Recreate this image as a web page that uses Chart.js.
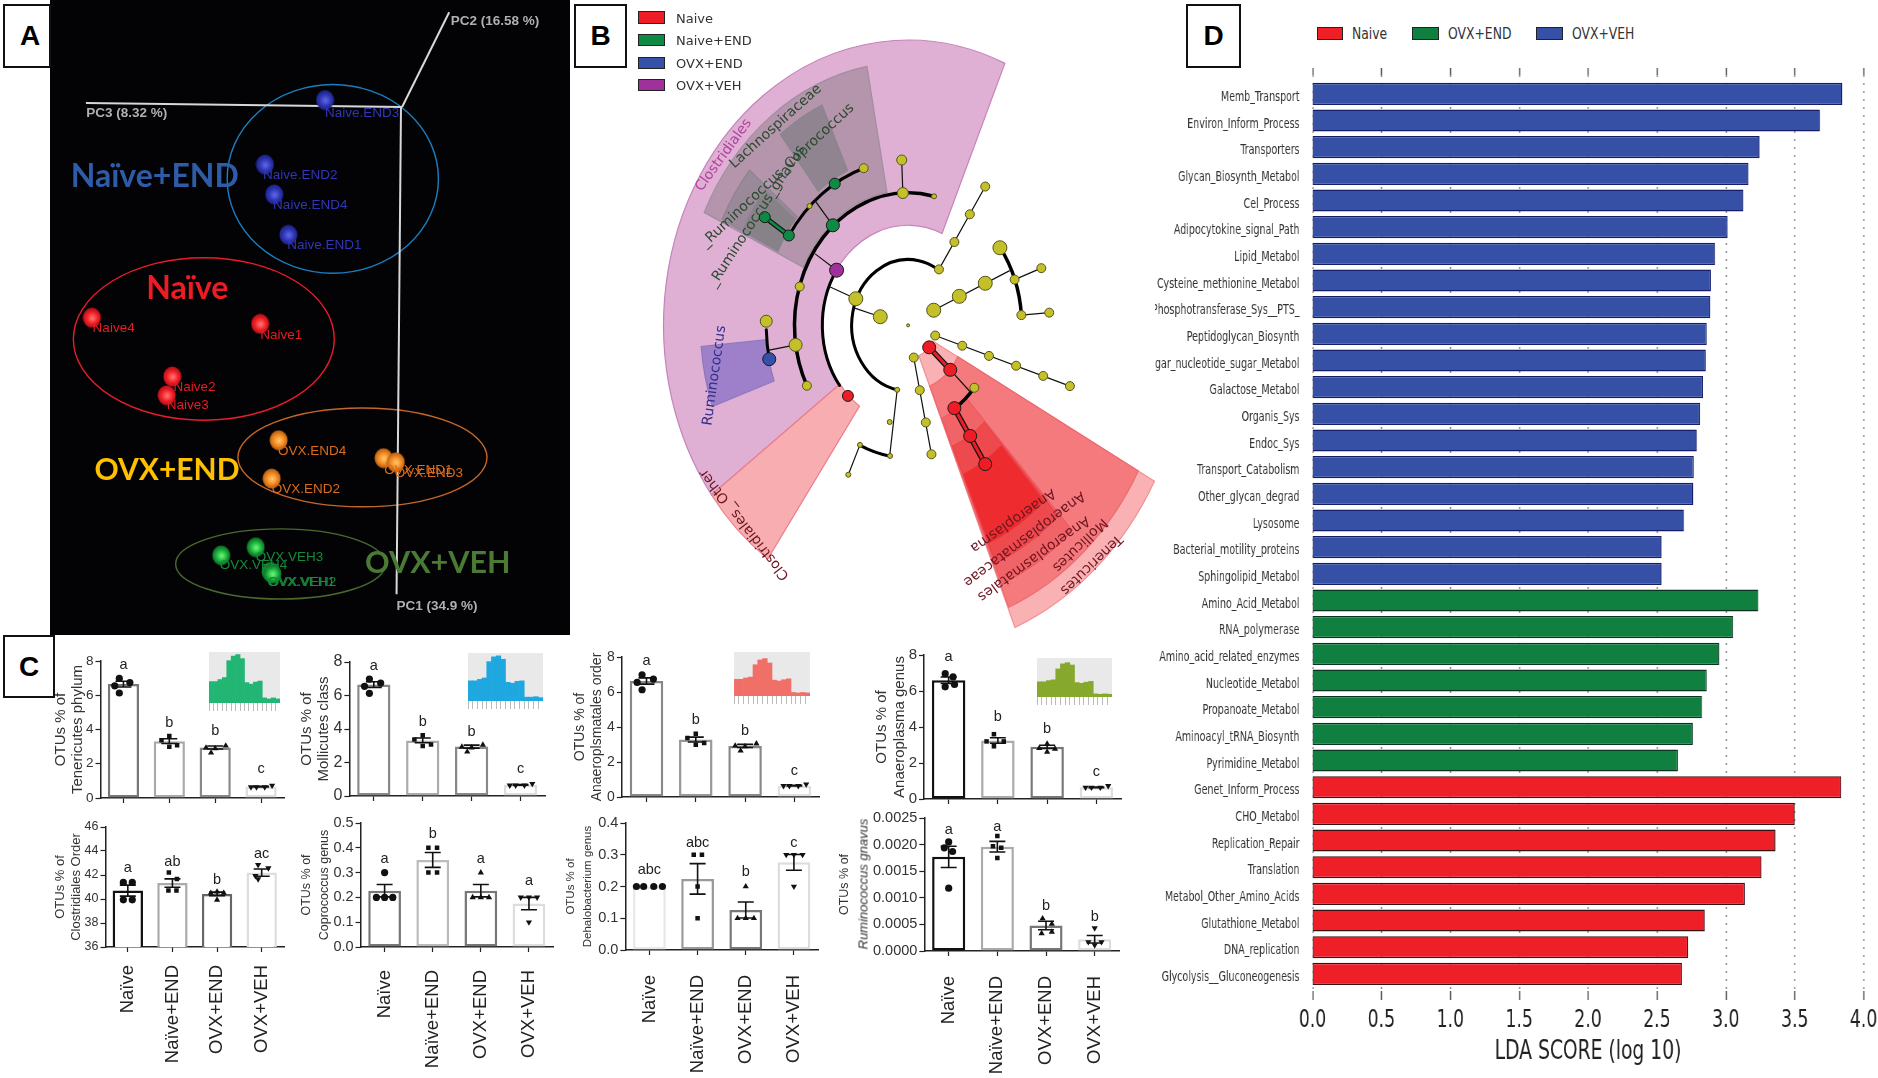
<!DOCTYPE html>
<html>
<head>
<meta charset="utf-8">
<title>Microbiome panels</title>
<script src="https://cdn.jsdelivr.net/npm/chart.js@4"></script>
<style>
  html, body { margin: 0; background: #fff; width: 1878px; height: 1078px; overflow: hidden; }
  canvas { position: absolute; }
  .tag { position: absolute; box-sizing: border-box; border: 2px solid #111; background: #fff; z-index: 5;
         font: bold 28px "Liberation Sans"; display: flex; align-items: center; justify-content: center; color: #000; }
  .swatch { position: absolute; box-sizing: border-box; border: 1.5px solid #222; }
  .key { position: absolute; color: #333; white-space: nowrap; transform-origin: 0 50%; }
</style>
</head>
<body>
<script>
// ───────────────────────── PANEL A DATA (PCoA, layout units) ─────────────────────────
const naiveEndX = [877, 715, 740, 778];
const naiveEndY = [245, 403, 476, 575];
const naiveX    = [248, 702, 465, 450];
const naiveY    = [778, 793, 922, 968];
const ovxEndX   = [752, 1035, 1068, 733];
const ovxEndY   = [1078, 1122, 1132, 1172];
const ovxVehX   = [597, 690, 730, 735];
const ovxVehY   = [1360, 1340, 1400, 1405];

const pcaLabels  = ["Naive.END3", "Naive.END2", "Naive.END4", "Naive.END1", "Naive4", "Naive1", "Naive2", "Naive3",
                    "OVX.END4", "OVX.END2", "OVX.END1", "OVX.END3", "OVX.VEH3", "OVX.VEH4", "OVX.VEH1", "OVX.VEH2"];
const pcaLabelX  = [877, 710, 737, 775, 250, 702, 468, 450, 750, 733, 1037, 1065, 690, 593, 722, 725];
const pcaLabelY  = [278, 430, 503, 601, 803, 821, 948, 992, 1105, 1198, 1152, 1160, 1365, 1385, 1427, 1427];
const pcaAxisPC3 = [[232, 252], [1085, 262]];
const pcaAxisPC2 = [[1085, 262], [1212, 30]];
const pcaAxisPC1 = [[1082, 262], [1070, 1455]];

// ───────────────────────── PANEL B DATA (cladogram, layout units) ─────────────────────────
const cladeCentre  = [872, 797];
const yellowNodes  = [[872,797,1.5],[733,732,7],[798,776,7],[855,392,5],[858,473,5.5],[941,481,2.5],[754,412,4.5],[610,505,2.5],
                      [584,702,4.5],[573,845,6.5],[603,945,4.5],[495,787,6],[1077,457,4.5],[1036,525,4.5],[995,593,4.5],[954,660,4.5],
                      [1116,607,7],[1226,657,4.5],[1155,685,4.5],[1173,772,4.5],[1247,766,4.5],[1077,694,7],[1008,726,7],[940,760,7],
                      [944,822,4.5],[1016,847,4.5],[1087,872,4.5],[1159,896,4.5],[1231,921,4.5],[1302,946,4.5],
                      [887,876,4.5],[903,956,4.5],[919,1035,4.5],[934,1113,4.5],[1048,950,4.5],[843,955,2.5],[823,1034,2.5],
                      [824,1117,2.5],[744,1090,2.5],[713,1163,2.5]];
const greenNodes   = [[677,450,5.5],[672,552,6.5],[555,577,5.5],[491,532,5.5]];
const purpleNodes  = [[682,662,7]];
const blueNodes    = [[503,880,6.5]];
const redNodes     = [[712,970,5.5],[928,851,6.5],[984,906,6.5],[995,1000,6.5],[1037,1068,6.5],[1077,1137,6.5]];
const thinBranches = [[733,732,665,703],[682,662,625,622],[798,776,730,755],[672,552,625,492],[858,473,855,392],[954,660,1077,457],
                      [940,760,1142,663],[1155,685,1226,657],[1173,772,1247,766],[944,822,1302,946],[887,876,934,1113],
                      [984,906,1035,958],[843,955,823,1117],[744,1090,713,1163],[573,845,503,858]];
const redBranches   = [[928,851,984,906],[995,1000,1077,1137]];
const greenBranches = [[555,577,491,532]];
// arcs: radius, from angle, to angle (degrees, clockwise from east)
const arcRadius = [150, 228, 302, 377, 377, 302, 302, 226];
const arcFrom   = [101, 143, 153, 213, 168, -36, 99, 39];
const arcTo     = [300, 213.5, 283, 252, 178.5, -4.4, 115, 57];
const arcWidth  = [3, 3, 3.5, 3, 3, 3.5, 3, 3.5];
// highlighted sectors: inner radius, outer radius, from angle, to angle
const sectorInner = [228, 225, 308, 388, 385, 385, 378, 75, 150, 230, 300, 370];
const sectorOuter = [650, 650, 600, 552, 550, 490, 552, 745, 696, 640, 590, 540];
const sectorFrom  = [143.5, 125, 205.4, 232, 206, 206, 160.4, 28.5, 28.5, 47, 47.5, 48];
const sectorTo    = [293.3, 143.5, 259.5, 245.5, 220, 219, 175, 67.6, 67.4, 67, 66.8, 66.5];
const sectorFill  = ["#dfb0d3", "#f8aeb0", "rgba(115,110,115,.4)", "rgba(106,115,114,.5)", "rgba(106,115,114,.35)", "rgba(106,120,110,.4)",
                     "rgba(80,70,190,.45)", "#f9b1b3", "#f47a7d", "#f06468", "#ee4a4d", "#ee2c30"];
const sectorEdge  = ["#c583ba", "#ec7f8b", "#a08ea2", "#8c8490", "#8c8490", "#8c8490", "#8d78bd", "#f48f93", "#ee6a70", "#ee5a60", "#ea4448", "#ea3034"];

const cladeText  = ["Clostridiales", "Lachnospiraceae", "_Ruminococcus_Coprococcus", "_Ruminococcus_gnavus", "Ruminococcus", "Clostridiales_ Other",
                    "Anaeroplasma", "Anaeroplasmataceae", "Anaeroplasmatales", "Mollicutes", "Tenericutes"];
const cladeTextX = [382, 520, 525, 470, 358, 437, 1150, 1180, 1205, 1328, 1358];
const cladeTextY = [380, 310, 430, 530, 920, 1285, 1275, 1320, 1368, 1335, 1383];
const cladeTextA = [-54, -42, -43, -57, -82, 232, 145, 143, 144, 136, 136];
const cladeTextC = ["#b040a0", "#2a4a30", "#2a4a30", "#2a4a30", "#2f2d8e", "#6d1520", "#6d1520", "#6d1520", "#6d1520", "#6d1520", "#6d1520"];

// ───────────────────────── PANEL C DATA ─────────────────────────
const groupsC = ["Naïve", "Naïve+END", "OVX+END", "OVX+VEH"];

const tenericutesMean   = [6.65, 3.32, 2.95, 0.67];
const tenericutesSem    = [0.17, 0.14, 0.09, 0.02];
const molliculesMean    = [6.65, 3.32, 2.95, 0.67];
const molliculesSem     = [0.17, 0.14, 0.09, 0.02];
const anaeroOrderMean   = [6.63, 3.28, 2.92, 0.65];
const anaeroOrderSem    = [0.18, 0.14, 0.09, 0.02];
const anaeroGenusMean   = [6.6, 3.25, 2.9, 0.65];
const anaeroGenusSem    = [0.18, 0.15, 0.09, 0.02];
const clostridialesMean = [40.7, 41.33, 40.42, 42.2];
const clostridialesSem  = [0.46, 0.35, 0.15, 0.3];
const coprococcusMean   = [0.227, 0.351, 0.227, 0.175];
const coprococcusSem    = [0.025, 0.03, 0.025, 0.025];
const dehaloMean        = [0.2, 0.224, 0.126, 0.276];
const dehaloSem         = [0, 0.048, 0.025, 0.025];
const gnavusMean        = [0.00177, 0.00196, 0.00048, 0.00022];
const gnavusSem         = [0.0002, 0.0001, 0.00008, 0.00007];

const topValues = [[6.98, 6.74, 6.55, 6.13], [3.62, 3.37, 3.08, 2.99], [2.93, 3.05, 2.89, 2.64], [0.64, 0.64, 0.64, 0.73]];
const topJitter = [[-0.09, 0.14, -0.19, -0.09], [0, -0.17, 0.17, 0], [-0.2, 0.23, 0, -0.09], [-0.22, -0.1, 0.08, 0.24]];
const anaeroGenusValues = [[6.96, 6.78, 6.23, 6.36], [3.6, 3.2, 3.2, 2.93], [2.82, 3.06, 2.78, 2.62], [0.64, 0.64, 0.64, 0.73]];
const anaeroGenusJitter = [[-0.07, 0.09, -0.07, 0.12], [-0.08, -0.23, 0.12, -0.08], [-0.16, 0, 0.16, 0], [-0.22, -0.1, 0.08, 0.24]];
const clostridialesValues = [[41.38, 41.38, 39.93, 39.93], [42.2, 41.66, 40.7, 40.7], [40.5, 40.5, 40.6, 39.93], [42.84, 42.57, 41.93, 41.66]];
const clostridialesJitter = [[-0.1, 0.1, -0.1, 0.1], [-0.08, 0.1, -0.09, 0.09], [-0.14, 0.15, 0, 0], [-0.08, 0.15, -0.14, -0.08]];
const coprococcusValues = [[0.3, 0.2, 0.2, 0.2], [0.4, 0.4, 0.3, 0.3], [0.3, 0.2, 0.2, 0.2], [0.2, 0.2, 0.2, 0.1]];
const coprococcusJitter = [[0, -0.17, 0, 0.17], [-0.09, 0.09, -0.09, 0.09], [0, -0.17, 0, 0.17], [-0.17, 0, 0.17, 0]];
const dehaloValues = [[0.2, 0.2, 0.2, 0.2], [0.3, 0.3, 0.2, 0.1], [0.2, 0.1, 0.1, 0.1], [0.3, 0.3, 0.3, 0.2]];
const dehaloJitter = [[-0.27, -0.12, 0.09, 0.27], [-0.08, 0.09, 0, 0], [0, -0.17, 0, 0.17], [-0.16, 0, 0.18, 0]];
const gnavusValues = [[0.00205, 0.00187, 0.00194, 0.00118], [0.00216, 0.00197, 0.00194, 0.00175], [0.00061, 0.00051, 0.00033, 0.00036], [0.00043, 0.00017, 0.00017, 0.00011]];
const gnavusJitter = [[0, 0.08, -0.09, 0], [0, -0.09, 0.08, 0], [-0.07, 0.12, -0.09, 0.12], [0, -0.13, 0.14, 0]];

const insetGreen = [0.42, 0.42, 0.46, 0.5, 0.83, 0.92, 0.95, 0.87, 0.4, 0.37, 0.41, 0.43, 0.1, 0.08, 0.1, 0.08];
const insetBlue  = [0.42, 0.42, 0.45, 0.48, 0.82, 0.92, 0.94, 0.87, 0.39, 0.37, 0.41, 0.42, 0.08, 0.08, 0.09, 0.07];
const insetRed   = [0.38, 0.38, 0.41, 0.43, 0.71, 0.82, 0.85, 0.75, 0.36, 0.34, 0.37, 0.39, 0.08, 0.07, 0.08, 0.07];
const insetOlive = [0.39, 0.39, 0.42, 0.44, 0.72, 0.85, 0.88, 0.82, 0.37, 0.35, 0.38, 0.4, 0.08, 0.07, 0.08, 0.07];

// ───────────────────────── PANEL D DATA ─────────────────────────
const ldaLabels = ["Memb_Transport", "Environ_Inform_Process", "Transporters", "Glycan_Biosynth_Metabol", "Cel_Process", "Adipocytokine_signal_Path",
    "Lipid_Metabol", "Cysteine_methionine_Metabol", "Phosphotransferase_Sys__PTS_", "Peptidoglycan_Biosynth", "Amino_sugar_nucleotide_sugar_Metabol",
    "Galactose_Metabol", "Organis_Sys", "Endoc_Sys", "Transport_Catabolism", "Other_glycan_degrad", "Lysosome", "Bacterial_motility_proteins",
    "Sphingolipid_Metabol", "Amino_Acid_Metabol", "RNA_polymerase", "Amino_acid_related_enzymes", "Nucleotide_Metabol", "Propanoate_Metabol",
    "Aminoacyl_tRNA_Biosynth", "Pyrimidine_Metabol", "Genet_Inform_Process", "CHO_Metabol", "Replication_Repair", "Translation",
    "Metabol_Other_Amino_Acids", "Glutathione_Metabol", "DNA_replication", "Glycolysis__Gluconeogenesis"];
const ldaValues = [3.845, 3.683, 3.245, 3.164, 3.127, 3.013, 2.922, 2.891, 2.888, 2.861, 2.854, 2.834, 2.814, 2.79, 2.767, 2.763, 2.696, 2.534, 2.534,
    3.235, 3.053, 2.952, 2.861, 2.827, 2.76, 2.652,
    3.838, 3.501, 3.36, 3.259, 3.137, 2.848, 2.726, 2.682];
const ldaGroups = [19, 7, 8];   // OVX+VEH, OVX+END, Naive bars, top to bottom

// ───────────────────────── HELPERS ─────────────────────────
Chart.defaults.animation = false;
Chart.defaults.devicePixelRatio = 1;
Chart.defaults.font.family = "Liberation Sans";
Chart.defaults.layout.autoPadding = false;  // plot areas are placed by hand

// fixes an axis box to a known size, without the room chart.js keeps for end labels
function fixBox(scale, size) {
    if (scale.isHorizontal()) scale.height = size; else scale.width = size;
    scale.paddingLeft = scale.paddingRight = scale.paddingTop = scale.paddingBottom = 0;
}

function makeCanvas(left, top, width, height) {
    const c = document.createElement("canvas");
    c.width = width; c.height = height;
    c.style.left = left + "px"; c.style.top = top + "px";
    document.body.appendChild(c);
    return c;
}

function addTag(letter, left, top, width, height, nudge = 0) {
    const d = document.createElement("div");
    d.className = "tag"; d.textContent = letter;
    d.style.cssText += `left:${left}px;top:${top}px;width:${width}px;height:${height}px;padding-left:${nudge}px`;
    document.body.appendChild(d);
}

function addKey(text, color, boxLeft, boxTop, boxW, boxH, textLeft, font, squeeze = 1) {
    const s = document.createElement("div");
    s.className = "swatch";
    s.style.cssText += `left:${boxLeft}px;top:${boxTop}px;width:${boxW}px;height:${boxH}px;background:${color}`;
    document.body.appendChild(s);
    const t = document.createElement("div");
    t.className = "key"; t.textContent = text;
    t.style.cssText += `left:${textLeft}px;top:${boxTop + boxH / 2}px;transform:translateY(-50%) scaleX(${squeeze});font:${font}`;
    document.body.appendChild(t);
}

// text placed through the chart's scales
function notesPlugin(items, xId = "x", yId = "y") {
    return {
        id: "notes",
        afterDatasetsDraw(chart) {
            const ctx = chart.ctx;
            items.forEach(n => {
                ctx.save();
                ctx.translate(chart.scales[xId].getPixelForValue(n.x), chart.scales[yId].getPixelForValue(n.y));
                if (n.angle) ctx.rotate(n.angle * Math.PI / 180);
                ctx.font = n.font;
                ctx.fillStyle = n.color;
                ctx.textAlign = n.align || "center";
                ctx.textBaseline = "middle";
                ctx.fillText(n.text, 0, 0);
                ctx.restore();
            });
        }
    };
}

function toPoints(xs, ys) { return xs.map((x, i) => ({ x, y: ys[i] })); }

function hiddenAxes(xMin, xMax, yMin, yMax) {
    return {
        x: { type: "linear", display: false, min: xMin, max: xMax },
        y: { type: "linear", display: false, min: yMin, max: yMax, reverse: true }
    };
}

// ball shaped marker for panel A
function ball(light, mid, dark) {
    const c = document.createElement("canvas");
    c.width = 19; c.height = 21;
    const g = c.getContext("2d");
    const grad = g.createRadialGradient(10, 11, 1, 9.5, 10.5, 10);
    grad.addColorStop(0, light); grad.addColorStop(0.55, mid); grad.addColorStop(1, dark);
    g.fillStyle = grad;
    g.beginPath(); g.ellipse(9.5, 10.5, 9, 10, 0, 0, Math.PI * 2); g.fill();
    return c;
}

// ───────────────────────── PANEL A ─────────────────────────
const pcaRings = [[898, 438, 285, 231, "#1a7fc0"], [550, 830, 352, 199, "#e81c2c"], [978, 1120, 336, 121, "#c4662a"], [757, 1381, 283, 86, "#4a6a30"]];
const ringsPlugin = {
    id: "rings",
    beforeDatasetsDraw(chart) {
        const { ctx, scales: { x, y } } = chart;
        ctx.save();
        ctx.lineWidth = 1.4;
        pcaRings.forEach(r => {
            ctx.strokeStyle = r[4];
            ctx.beginPath();
            ctx.ellipse(x.getPixelForValue(r[0]), y.getPixelForValue(r[1]),
                x.getPixelForValue(r[0] + r[2]) - x.getPixelForValue(r[0]),
                y.getPixelForValue(r[1] + r[3]) - y.getPixelForValue(r[1]), 0, 0, Math.PI * 2);
            ctx.stroke();
        });
        ctx.restore();
    }
};
const pcaColor = i => i < 4 ? "#3236b4" : i < 8 ? "#e81c24" : i < 12 ? "#d96c1c" : "#178a3a";
const pcaNotes = pcaLabels.map((t, i) => ({ text: t, x: pcaLabelX[i], y: pcaLabelY[i], color: pcaColor(i), font: "13.5px 'Liberation Sans'", align: "left" }));
[["PC2 (16.58 %)", 1216, 52], ["PC3 (8.32 %)", 233, 278], ["PC1 (34.9 %)", 1070, 1485]].forEach(p =>
    pcaNotes.push({ text: p[0], x: p[1], y: p[2], color: "#b0b0b0", font: "bold 13.5px 'Liberation Sans'", align: "left" }));
[["Naïve+END", 191, 432, "#2e5ca8", 32], ["Naïve", 395, 706, "#ed1c24", 32], ["OVX+END", 255, 1152, "#ffc000", 30], ["OVX+VEH", 985, 1378, "#4a7a34", 30.5]].forEach(p =>
    pcaNotes.push({ text: p[0], x: p[1], y: p[2], color: p[3], font: `bold ${p[4]}px Lato`, align: "left" }));

const pcaLine = pts => ({ type: "scatter", data: pts.map(p => ({ x: p[0], y: p[1] })), showLine: true, borderColor: "#d8d8d8", borderWidth: 2, pointRadius: 0 });
const pcaBalls = (xs, ys, style) => ({ type: "scatter", data: toPoints(xs, ys), pointStyle: style, pointRadius: 9 });

new Chart(makeCanvas(50, 0, 520, 635), {
    type: "scatter",
    data: {
        // first dataset ends up on top
        datasets: [
            pcaBalls(naiveEndX, naiveEndY, ball("#5a60e0", "#2c34b0", "#1c2080")),
            pcaBalls(naiveX, naiveY, ball("#ff6a6a", "#f01c24", "#a81018")),
            pcaBalls(ovxEndX, ovxEndY, ball("#ffc060", "#f08420", "#a85a10")),
            pcaBalls(ovxVehX, ovxVehY, ball("#60f070", "#18a83a", "#0c6020")),
            pcaLine(pcaAxisPC3), pcaLine(pcaAxisPC2), pcaLine(pcaAxisPC1)
        ]
    },
    options: {
        responsive: false,
        layout: { padding: 0 },
        scales: hiddenAxes(135, 1538, 0, 1555),
        plugins: { legend: { display: false }, tooltip: { enabled: false } }
    },
    plugins: [
        { id: "blackBack", beforeDraw(c) { c.ctx.fillStyle = "#030305"; c.ctx.fillRect(0, 0, c.width, c.height); } },
        ringsPlugin, notesPlugin(pcaNotes)
    ]
});

// ───────────────────────── PANEL B ─────────────────────────
const cladeStretch = 1.075;   // y radius over x radius
const sectorsPlugin = {
    id: "sectors",
    beforeDatasetsDraw(chart) {
        const { ctx, scales: { x, y } } = chart;
        const cx = x.getPixelForValue(cladeCentre[0]), cy = y.getPixelForValue(cladeCentre[1]);
        const rx = r => x.getPixelForValue(cladeCentre[0] + r) - cx;
        const ry = r => y.getPixelForValue(cladeCentre[1] + r * cladeStretch) - cy;
        const rad = d => d * Math.PI / 180;
        ctx.save();
        sectorInner.forEach((inner, i) => {
            ctx.beginPath();
            ctx.ellipse(cx, cy, rx(sectorOuter[i]), ry(sectorOuter[i]), 0, rad(sectorFrom[i]), rad(sectorTo[i]), false);
            ctx.ellipse(cx, cy, rx(inner), ry(inner), 0, rad(sectorTo[i]), rad(sectorFrom[i]), true);
            ctx.closePath();
            ctx.fillStyle = sectorFill[i];
            ctx.fill();
            ctx.strokeStyle = sectorEdge[i];
            ctx.lineWidth = 1.2;
            ctx.stroke();
        });
        ctx.strokeStyle = "#000";
        ctx.lineCap = "round";
        arcRadius.forEach((r, i) => {
            ctx.lineWidth = arcWidth[i];
            ctx.beginPath();
            ctx.ellipse(cx, cy, rx(r), ry(r), 0, rad(arcFrom[i]), rad(arcTo[i]), false);
            ctx.stroke();
        });
        ctx.restore();
    }
};

function branchSet(list, color, width) {
    const pts = [];
    list.forEach(b => pts.push({ x: b[0], y: b[1] }, { x: b[2], y: b[3] }, { x: NaN, y: NaN }));
    return { type: "scatter", data: pts, showLine: true, spanGaps: false, borderColor: color, borderWidth: width, pointRadius: 0 };
}
function nodeSet(list, color, edge = "#1a1a1a") {
    return {
        type: "scatter", data: list.map(n => ({ x: n[0], y: n[1] })),
        pointRadius: list.map(n => n[2]), backgroundColor: color, borderColor: edge, borderWidth: 1
    };
}

const cladeNotes = cladeText.map((t, i) => ({ text: t, x: cladeTextX[i], y: cladeTextY[i], angle: cladeTextA[i], color: cladeTextC[i], font: "14px 'DejaVu Sans'" }));

new Chart(makeCanvas(580, 0, 590, 640), {
    type: "scatter",
    data: {
        // first dataset ends up on top: nodes, then coloured cores, then their outlines
        datasets: [
            nodeSet(redNodes, "#ee1c25"), nodeSet(blueNodes, "#3450a8"), nodeSet(purpleNodes, "#a0309a"), nodeSet(greenNodes, "#0f8a45"),
            nodeSet(yellowNodes, "#c3c02a", "#55551a"),
            branchSet(redBranches, "#ee1c25", 3), branchSet(redBranches, "#111", 5.5),
            branchSet(greenBranches, "#0f8a45", 2.8), branchSet(greenBranches, "#111", 5),
            branchSet(thinBranches, "#111", 1.2)
        ]
    },
    options: {
        responsive: false,
        layout: { padding: 0 },
        scales: hiddenAxes(0, 1568, 0, 1568),
        plugins: { legend: { display: false }, tooltip: { enabled: false } }
    },
    plugins: [sectorsPlugin, notesPlugin(cladeNotes)]
});

// ───────────────────────── PANEL C ─────────────────────────
const groupShapes = ["circle", "rect", "triangle", "triangle"];

function errorBars(means, sems) {
    return {
        id: "errorBars",
        afterDatasetsDraw(chart) {
            const { ctx, scales } = chart;
            ctx.save();
            ctx.strokeStyle = "#111";
            ctx.lineWidth = 1.6;
            means.forEach((m, i) => {
                if (!sems[i]) return;
                const px = scales.xp.getPixelForValue(i), hi = scales.y.getPixelForValue(m + sems[i]), lo = scales.y.getPixelForValue(m - sems[i]);
                ctx.beginPath();
                ctx.moveTo(px, hi); ctx.lineTo(px, lo);
                ctx.moveTo(px - 8, hi); ctx.lineTo(px + 8, hi);
                ctx.moveTo(px - 8, lo); ctx.lineTo(px + 8, lo);
                ctx.stroke();
            });
            ctx.restore();
        }
    };
}

function otuChart(cfg) {
    const padTop = 14, padRight = 10;
    const left = cfg.firstLineX - cfg.titleLine / 2;
    const top = cfg.plotTop - padTop;
    const axisH = cfg.showLabels ? cfg.labelRoom : 8;
    const height = cfg.plotBottom - top + axisH;
    const width = cfg.right + padRight - left;
    const pointSets = cfg.values.map((vals, g) => ({
        type: "scatter", xAxisID: "xp", yAxisID: "y", order: 1,
        data: vals.map((v, k) => ({ x: g + cfg.jitter[g][k], y: v })),
        pointStyle: groupShapes[g], rotation: g === 3 ? 180 : 0,
        pointRadius: g === 1 ? 3.2 : 3.6, backgroundColor: "#111", borderColor: "#111", borderWidth: 0
    }));
    new Chart(makeCanvas(left, top, width, height), {
        data: {
            labels: groupsC,
            datasets: [{
                // every dataset sits on the linear xp axis, the category axis only shows the names
                type: "bar", data: cfg.means.map((m, i) => ({ x: i, y: m })), xAxisID: "xp", yAxisID: "y", order: 2,
                backgroundColor: "#fff", borderColor: cfg.edges, borderWidth: 2.5,
                borderSkipped: false, barPercentage: 0.68, categoryPercentage: 1
            }, ...pointSets]
        },
        options: {
            responsive: false,
            layout: { padding: { top: padTop, right: padRight, left: 0, bottom: 0 } },
            scales: {
                x: {
                    type: "category", offset: true,
                    afterFit: s => fixBox(s, axisH),
                    border: { color: "#222", width: 1.5 },
                    grid: { drawOnChartArea: false, offset: false, tickLength: 5, color: "#222", tickWidth: 1.2 },
                    ticks: { display: !!cfg.showLabels, maxRotation: 90, minRotation: 90, autoSkip: false, padding: cfg.labelGap, color: "#222", font: { size: 18.5 } }
                },
                xp: { type: "linear", display: false, min: -0.5, max: 3.5, offset: false },
                y: {
                    min: cfg.min, max: cfg.max,
                    afterFit: s => fixBox(s, cfg.axisX - left),
                    afterBuildTicks: s => { s.ticks = cfg.ticks.map(v => ({ value: v })); },
                    border: { color: "#222", width: 1.5 },
                    grid: { drawOnChartArea: false, tickLength: 5, color: "#222", tickWidth: 1.2 },
                    ticks: { padding: 2, color: "#333", font: { size: cfg.tickSize }, callback: v => v.toFixed(cfg.decimals) },
                    title: { display: true, text: cfg.title, color: "#333", padding: 0, font: { size: cfg.titleSize, lineHeight: cfg.titleLine + "px" } }
                }
            },
            plugins: { legend: { display: false }, tooltip: { enabled: false } }
        },
        plugins: [
            errorBars(cfg.means, cfg.sems),
            notesPlugin(cfg.letters.map((t, i) => ({ text: t, x: i, y: cfg.letterY[i], color: "#222", font: "14.5px 'Liberation Sans'" })), "xp", "y")
        ]
    });
}

otuChart({ firstLineX: 60, titleLine: 17, titleSize: 15, title: ["OTUs % of", "Tenericutes phylum"], axisX: 100, right: 284, plotTop: 661.4, plotBottom: 798.4,
    min: 0, max: 8, ticks: [0, 2, 4, 6, 8], decimals: 0, tickSize: 13.5, means: tenericutesMean, sems: tenericutesSem, values: topValues, jitter: topJitter,
    edges: ["#777", "#aaa", "#888", "#ddd"], letters: ["a", "b", "b", "c"], letterY: [7.74, 4.39, 3.91, 1.68] });
otuChart({ firstLineX: 307, titleLine: 17.5, titleSize: 15, title: ["OTUs % of", "Mollicutes class"], axisX: 349.6, right: 546, plotTop: 662.4, plotBottom: 797,
    min: 0, max: 8, ticks: [0, 2, 4, 6, 8], decimals: 0, tickSize: 16, means: molliculesMean, sems: molliculesSem, values: topValues, jitter: topJitter,
    edges: ["#888", "#aaa", "#888", "#ddd"], letters: ["a", "b", "b", "c"], letterY: [7.76, 4.43, 3.84, 1.63] });
otuChart({ firstLineX: 579.4, titleLine: 17.5, titleSize: 14, title: ["OTUs % of", "Anaeroplsmatales order"], axisX: 621.5, right: 819, plotTop: 656.5, plotBottom: 797.4,
    min: 0, max: 8, ticks: [0, 2, 4, 6, 8], decimals: 0, tickSize: 14, means: anaeroOrderMean, sems: anaeroOrderSem, values: topValues, jitter: topJitter,
    edges: ["#888", "#999", "#888", "#e0e0e0"], letters: ["a", "b", "b", "c"], letterY: [7.77, 4.38, 3.78, 1.5] });
otuChart({ firstLineX: 882, titleLine: 18, titleSize: 15, title: ["OTUs % of", "Anaeroplasma genus"], axisX: 924, right: 1121, plotTop: 654.8, plotBottom: 799,
    min: 0, max: 8, ticks: [0, 2, 4, 6, 8], decimals: 0, tickSize: 15, means: anaeroGenusMean, sems: anaeroGenusSem, values: anaeroGenusValues, jitter: anaeroGenusJitter,
    edges: ["#111", "#aaa", "#777", "#ddd"], letters: ["a", "b", "b", "c"], letterY: [7.88, 4.56, 3.88, 1.48] });

otuChart({ firstLineX: 60, titleLine: 16, titleSize: 13, title: ["OTUs % of", "Clostridiales Order"], axisX: 105.5, right: 284, plotTop: 827, plotBottom: 947.2,
    min: 36, max: 46, ticks: [36, 38, 40, 42, 44, 46], decimals: 0, tickSize: 12.5, means: clostridialesMean, sems: clostridialesSem, values: clostridialesValues, jitter: clostridialesJitter,
    edges: ["#111", "#aaa", "#666", "#ddd"], letters: ["a", "ab", "b", "ac"], letterY: [42.6, 43.1, 41.6, 43.77], showLabels: true, labelRoom: 125, labelGap: 13 });
otuChart({ firstLineX: 307, titleLine: 17.5, titleSize: 12.5, title: ["OTUs % of", "Coprococcus genus"], axisX: 360.8, right: 554, plotTop: 823, plotBottom: 947,
    min: 0, max: 0.5, ticks: [0, 0.1, 0.2, 0.3, 0.4, 0.5], decimals: 1, tickSize: 14.5, means: coprococcusMean, sems: coprococcusSem, values: coprococcusValues, jitter: coprococcusJitter,
    edges: ["#777", "#bbb", "#777", "#ddd"], letters: ["a", "b", "a", "a"], letterY: [0.354, 0.456, 0.354, 0.266], showLabels: true, labelRoom: 125, labelGap: 18 });
otuChart({ firstLineX: 571.5, titleLine: 16.5, titleSize: 11.5, title: ["OTUs % of", "Dehalobacterium genus"], axisX: 625.6, right: 819, plotTop: 823, plotBottom: 950.8,
    min: 0, max: 0.4, ticks: [0, 0.1, 0.2, 0.3, 0.4], decimals: 1, tickSize: 14.5, means: dehaloMean, sems: dehaloSem, values: dehaloValues, jitter: dehaloJitter,
    edges: ["#e8e8e8", "#999", "#777", "#ddd"], letters: ["abc", "abc", "b", "c"], letterY: [0.253, 0.338, 0.245, 0.338], showLabels: true, labelRoom: 125, labelGap: 20 });
otuChart({ firstLineX: 844.5, titleLine: 18.5, titleSize: 12.5, title: ["OTUs % of"], axisX: 924.6, right: 1120, plotTop: 818, plotBottom: 951,
    min: 0, max: 0.0025, ticks: [0, 0.0005, 0.001, 0.0015, 0.002, 0.0025], decimals: 4, tickSize: 14.5, means: gnavusMean, sems: gnavusSem, values: gnavusValues, jitter: gnavusJitter,
    edges: ["#111", "#aaa", "#777", "#ddd"], letters: ["a", "a", "b", "b"], letterY: [0.00228, 0.00233, 0.00084, 0.00063], showLabels: true, labelRoom: 125, labelGap: 20 });

// italic second line of the gnavus axis title
const gnavusTitle = document.createElement("div");
gnavusTitle.textContent = "Ruminococcus gnavus";
gnavusTitle.style.cssText = "position:absolute;left:863px;top:884px;transform:translate(-50%,-50%) rotate(-90deg);font:italic 13px 'Liberation Sans';color:#333;white-space:nowrap";
document.body.appendChild(gnavusTitle);

function insetChart(values, color, left, top, width, height) {
    new Chart(makeCanvas(left, top, width, height + 9), {
        type: "bar",
        data: { labels: values.map((v, i) => "t" + i), datasets: [{ data: values, backgroundColor: color, barPercentage: 1, categoryPercentage: 1 }] },
        options: {
            responsive: false,
            layout: { padding: 0 },
            scales: {
                x: {
                    afterFit: s => fixBox(s, 9),
                    border: { display: false },
                    grid: { drawOnChartArea: false, tickLength: 8, color: "#bbb" },
                    ticks: { display: false }
                },
                y: { display: false, min: 0, max: 1 }
            },
            plugins: { legend: { display: false }, tooltip: { enabled: false } }
        },
        plugins: [{
            id: "insetBack",
            beforeDatasetsDraw(c) {
                const a = c.chartArea;
                c.ctx.fillStyle = "#e9e9e9";
                c.ctx.fillRect(a.left, a.top, a.right - a.left, a.bottom - a.top);
            }
        }]
    });
}
insetChart(insetGreen, "#22b573", 209.4, 651.5, 71, 51);
insetChart(insetBlue, "#1fa8e0", 468, 653, 75, 48);
insetChart(insetRed, "#f07068", 734, 651.5, 76, 44);
insetChart(insetOlive, "#86a82c", 1036.6, 658, 75, 39);

// ───────────────────────── PANEL D ─────────────────────────
// the panel is a squeezed picture: drawn wide in DejaVu, then narrowed with css
const ldaSqueeze = 0.72;
const ldaFill = ["#3550a5", "#0f8040", "#ee1f27"];
const ldaEdge = ["#151c6a", "#0a3320", "#3a1015"];
const ldaGroupOf = i => i < ldaGroups[0] ? 0 : i < ldaGroups[0] + ldaGroups[1] ? 1 : 2;

const ldaGuides = {
    id: "ldaGuides",
    beforeDatasetsDraw(chart) {
        const { ctx, scales: { x } } = chart;
        ctx.save();
        x.ticks.forEach((t, i) => {
            const px = Math.round(x.getPixelForTick(i)) + 0.5;
            ctx.strokeStyle = "#888";
            ctx.lineWidth = 1.8;
            ctx.setLineDash([2, 6]);
            ctx.beginPath(); ctx.moveTo(px, 15); ctx.lineTo(px, 931); ctx.stroke();
            ctx.setLineDash([]);
            ctx.strokeStyle = "#555";
            ctx.beginPath();
            ctx.moveTo(px, 8); ctx.lineTo(px, 15);
            ctx.moveTo(px, 931); ctx.lineTo(px, 940);
            ctx.stroke();
        });
        ctx.restore();
    }
};

const ldaCanvas = makeCanvas(1155, 60, Math.round(723 / ldaSqueeze), 1018);
ldaCanvas.style.transformOrigin = "0 0";
ldaCanvas.style.transform = `scaleX(${ldaSqueeze})`;

new Chart(ldaCanvas, {
    type: "bar",
    data: {
        labels: ldaLabels,
        datasets: [{
            data: ldaValues,
            backgroundColor: ldaValues.map((v, i) => ldaFill[ldaGroupOf(i)]),
            borderColor: ldaValues.map((v, i) => ldaEdge[ldaGroupOf(i)]),
            borderWidth: 1.5,
            borderSkipped: false,
            barPercentage: 0.83, categoryPercentage: 1
        }]
    },
    options: {
        indexAxis: "y",
        responsive: false,
        layout: { padding: { top: 20.5, right: 14.3 / ldaSqueeze, left: 0, bottom: 0 } },
        scales: {
            x: {
                min: 0, max: 4,
                afterFit: s => fixBox(s, 90.8),
                afterBuildTicks: s => { s.ticks = [0, 0.5, 1, 1.5, 2, 2.5, 3, 3.5, 4].map(v => ({ value: v })); },
                border: { display: false },
                grid: { display: false, drawTicks: false },
                ticks: { padding: 19, color: "#222", font: { family: "DejaVu Sans", size: 24 }, callback: v => v.toFixed(1), maxRotation: 0 },
                title: { display: true, text: "LDA SCORE (log 10)", color: "#222", padding: { top: 0, bottom: 10 }, font: { family: "DejaVu Sans", size: 26 } }
            },
            y: {
                afterFit: s => fixBox(s, 157.5 / ldaSqueeze),
                border: { display: false },
                grid: { display: false, drawTicks: false },
                ticks: {
                    autoSkip: false, padding: 13 / ldaSqueeze, color: "#333",
                    font: { family: "DejaVu Sans", size: 13.2, lineHeight: "7.5px" },
                    // blank first line: the names sit a little below the middle of their bars
                    callback(v) { return ["", this.getLabelForValue(v)]; }
                }
            }
        },
        plugins: { legend: { display: false }, tooltip: { enabled: false } }
    },
    plugins: [ldaGuides]
});

// ───────────────────────── LEGENDS AND PANEL TAGS ─────────────────────────
const dejavuKey = "13px 'DejaVu Sans'";
addKey("Naive", "#ee1c25", 638, 11, 27, 13, 676, dejavuKey);
addKey("Naive+END", "#0f8a45", 638, 34, 27, 12, 676, dejavuKey);
addKey("OVX+END", "#3450a8", 638, 57, 27, 12, 676, dejavuKey);
addKey("OVX+VEH", "#a0309a", 638, 79, 27, 12, 676, dejavuKey);

const wideKey = "16.5px 'DejaVu Sans'";
addKey("Naive", "#ee1f27", 1317, 26.5, 26, 13.5, 1352, wideKey, 0.75);
addKey("OVX+END", "#0f8040", 1412, 26.5, 27, 13.5, 1448, wideKey, 0.75);
addKey("OVX+VEH", "#3550a5", 1536, 26.5, 27, 13.5, 1572, wideKey, 0.75);

addTag("A", 3, 4, 48, 64, 6);
addTag("B", 574, 4, 53, 64);
addTag("C", 3, 635, 52, 63);
addTag("D", 1186, 4, 55, 64);
</script>
</body>
</html>
